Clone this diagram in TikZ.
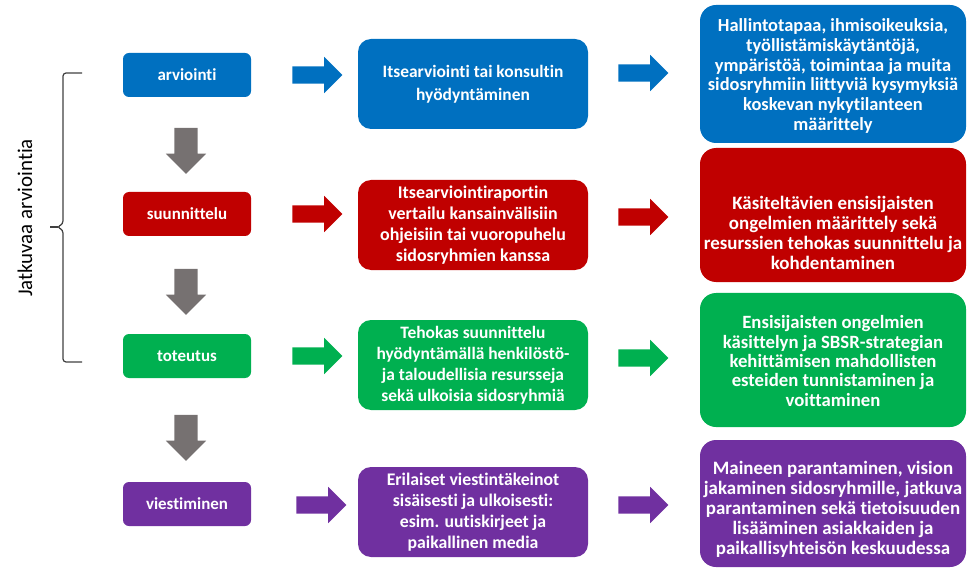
\documentclass[tikz,border=0pt]{standalone}
\usepackage{fontspec}
\setmainfont{Carlito}[RawFeature={-liga}]
\usetikzlibrary{shapes.arrows}
\definecolor{cblue}{HTML}{0070C0}
\definecolor{cred}{HTML}{C00000}
\definecolor{cgreen}{HTML}{00B050}
\definecolor{cpurple}{HTML}{7030A0}
\definecolor{cgray}{HTML}{767171}
\definecolor{cbrack}{HTML}{404040}
\newcommand{\fsz}[2]{\fontsize{#1}{#2}\selectfont\bfseries}
\begin{document}
\begin{tikzpicture}[x=1bp,y=-1bp,
 lbox/.style={rounded corners=6bp, minimum width=128bp, minimum height=44bp, text=white, font=\fsz{17}{20}, inner sep=0pt},
 mbox/.style={rounded corners=13bp, minimum width=230bp, minimum height=90bp, text=white, align=center, inner sep=0pt},
 rbox/.style={rounded corners=16bp, minimum width=266bp, inner sep=0pt},
 rtext/.style={text=white, align=center, inner sep=0pt},
 harrow/.style={single arrow, minimum height=50bp, inner xsep=0pt, inner ysep=8.5bp, single arrow head extend=9.5bp, draw=none},
 varrow/.style={single arrow, rotate=-90, minimum height=46bp, inner xsep=0pt, inner ysep=11.5bp, single arrow head extend=8.5bp, draw=none, fill=cgray},
 brack/.style={draw=cbrack, line width=1.2bp, rounded corners=3bp}
]
\useasboundingbox (0,0) rectangle (970,572);
% left boxes
\node[lbox, fill=cblue] (l1) at (187,75) {arviointi};
\node[lbox, fill=cred] (l2) at (187,214) {suunnittelu};
\node[lbox, fill=cgreen] (l3) at (187,356) {toteutus};
\node[lbox, fill=cpurple] (l4) at (187,504) {viestiminen};
% middle boxes
\node[mbox, fill=cblue, font=\fsz{17.5}{23}] (m1) at (473,84) {Itsearviointi tai konsultin\\hyödyntäminen};
\node[mbox, fill=cred, font=\fsz{18}{21}] (m2) at (473,225) {Itsearviointiraportin\\vertailu kansainvälisiin\\ohjeisiin tai vuoropuhelu\\sidosryhmien kanssa};
\node[mbox, fill=cgreen, font=\fsz{17.5}{21}] (m3) at (473,365) {Tehokas suunnittelu\\hyödyntämällä henkilöstö-\\ja taloudellisia resursseja\\sekä ulkoisia sidosryhmiä};
\node[mbox, fill=cpurple, font=\fsz{17.8}{21}] (m4) at (473,512) {Erilaiset viestintäkeinot\\sisäisesti ja ulkoisesti:\\esim. uutiskirjeet ja\\paikallinen media};
% right boxes
\node[rbox, fill=cblue, minimum height=138bp] (r1) at (833,74) {};
\node[rbox, fill=cred, minimum height=134bp] (r2) at (833,215) {};
\node[rbox, fill=cgreen, minimum height=134bp] (r3) at (833,360) {};
\node[rbox, fill=cpurple, minimum height=127bp] (r4) at (833,503.5) {};
\node[rtext, font=\fsz{18.5}{20}] (t1) at ([yshift=-2bp]r1.center) {Hallintotapaa, ihmisoikeuksia,\\työllistämiskäytäntöjä,\\ympäristöä, toimintaa ja muita\\sidosryhmiin liittyviä kysymyksiä\\koskevan nykytilanteen\\määrittely};
\node[rtext, font=\fsz{19}{20}] (t2) at ([yshift=-18bp]r2.center) {Käsiteltävien ensisijaisten\\ongelmien määrittely sekä\\resurssien tehokas suunnittelu ja\\kohdentaminen};
\node[rtext, font=\fsz{18.8}{19.5}] (t3) at ([yshift=-1bp]r3.center) {Ensisijaisten ongelmien\\käsittelyn ja SBSR-strategian\\kehittämisen mahdollisten\\esteiden tunnistaminen ja\\voittaminen};
\node[rtext, font=\fsz{19}{20}] (t4) at ([yshift=-6bp]r4.center) {Maineen parantaminen, vision\\jakaminen sidosryhmille, jatkuva\\parantaminen sekä tietoisuuden\\lisääminen asiakkaiden ja\\paikallisyhteisön keskuudessa};
% horizontal block arrows
\node[harrow, fill=cblue] (a1) at (313,75) {};
\node[harrow, fill=cred] (a2) at (313,214) {};
\node[harrow, fill=cgreen] (a3) at (313,356) {};
\node[harrow, fill=cpurple] (a4) at (317,505) {};
\node[harrow, fill=cblue] (b1) at (639,73) {};
\node[harrow, fill=cred] (b2) at (639,217) {};
\node[harrow, fill=cgreen] (b3) at (639,358) {};
\node[harrow, fill=cpurple] (b4) at (639,505) {};
% vertical gray arrows
\node[varrow] (g1) at (186,145) {};
\node[varrow] (g2) at (186,286) {};
\node[varrow] (g3) at (186,432) {};
% bracket
\coordinate (bt) at (82,73);
\coordinate (bb) at (82,362);
\coordinate (btip) at (50,227);
\draw[brack] (bt) -- (63,73) -- (63,224) -- (57,227) -- (63,230) -- (63,362) -- (bb);
\draw[draw=cbrack, line width=1.2bp] (btip) -- (58,227);
\node[rotate=90, font=\fontsize{21}{23}\selectfont, text=black, inner sep=0pt] (jt) at (25,218) {Jatkuvaa arviointia};
\end{tikzpicture}
\end{document}
